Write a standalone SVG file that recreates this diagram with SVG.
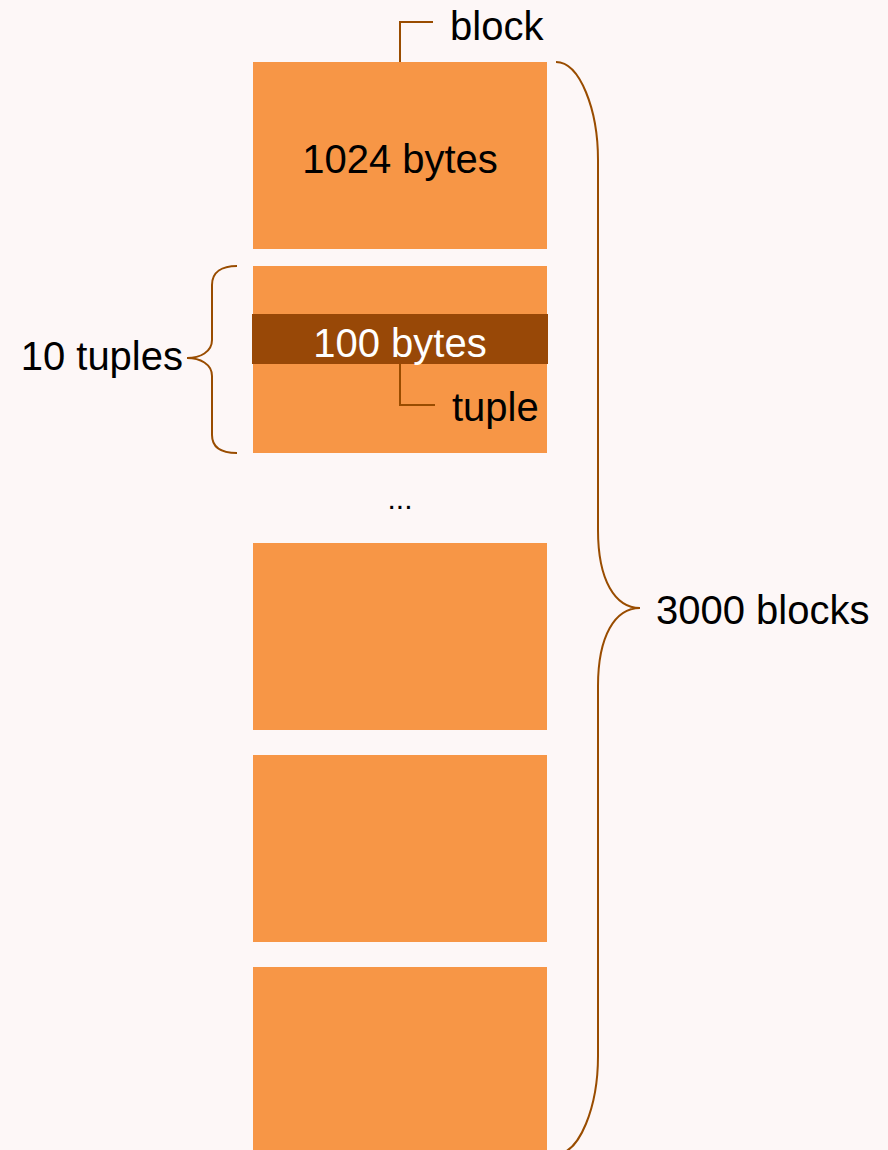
<svg xmlns="http://www.w3.org/2000/svg" width="888" height="1150" viewBox="0 0 888 1150">
<style>
.blk{fill:#f79646}
.t{font-family:"Liberation Sans",Arial,sans-serif;font-size:40px;fill:#000}
.ln{fill:none;stroke:#994c00;stroke-width:2}
</style>
<rect width="888" height="1150" fill="#fdf7f7"/>
<g id="block1"><rect class="blk" x="253" y="62" width="294" height="187"/><text class="t" x="400" y="173" text-anchor="middle">1024 bytes</text></g>
<g id="block2"><rect class="blk" x="253" y="266" width="294" height="187"/></g>
<g id="tuple"><rect x="252" y="314" width="296" height="50" fill="#984807"/><text class="t" x="400" y="357" text-anchor="middle" fill="#fff" style="fill:#fff">100 bytes</text></g>
<g id="dots"><text x="400" y="509" text-anchor="middle" style="font-family:'Liberation Sans',Arial,sans-serif;font-size:30px">...</text></g>
<g id="block3"><rect class="blk" x="253" y="543" width="294" height="187"/></g>
<g id="block4"><rect class="blk" x="253" y="755" width="294" height="187"/></g>
<g id="block5"><rect class="blk" x="253" y="967" width="294" height="200"/></g>
<g id="label-block"><text class="t" x="450" y="40">block</text></g>
<g id="label-tuple"><text class="t" x="452" y="421">tuple</text></g>
<g id="label-10tuples"><text class="t" x="183" y="370" text-anchor="end">10 tuples</text></g>
<g id="label-3000"><text class="t" x="656" y="624">3000 blocks</text></g>
<g id="connectors">
<path class="ln" d="M400,62 V22 H433"/>
<path class="ln" d="M400,364 V405 H435"/>
<path class="ln" d="M237,266 C222,266 212,272 212,285 L212,340 C212,352 200,358 187,358 C200,358 212,364 212,376 L212,435 C212,448 222,453 237,453"/>
<path class="ln" d="M556,62 C580,62 598,110 598,160 L598,530 C598,580 615,608 640,608 C615,608 598,636 598,686 L598,1056 C598,1106 580,1154 556,1154"/>
</g>
</svg>
